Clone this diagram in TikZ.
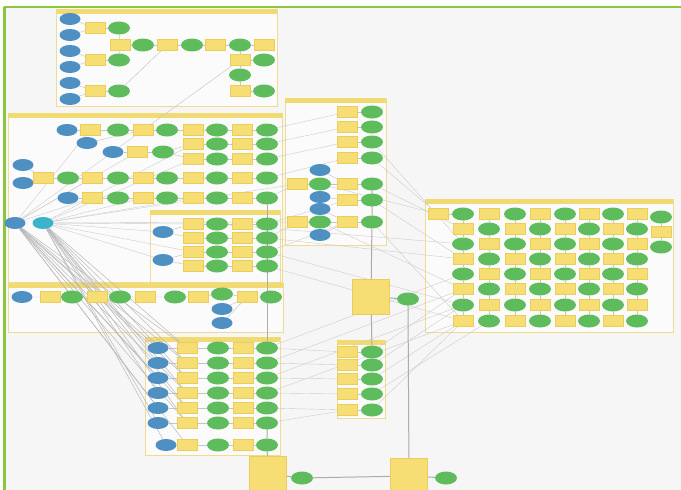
\documentclass[tikz,border=0pt]{standalone}
\usetikzlibrary{shapes.geometric}
\pgfdeclarelayer{base}
\pgfdeclarelayer{back}
\pgfdeclarelayer{links}
\pgfsetlayers{base,back,links,main}
\definecolor{bgc}{HTML}{F6F6F7}
\definecolor{bord}{HTML}{8CC63F}
\definecolor{nblue}{HTML}{4F90C2}
\definecolor{ncyan}{HTML}{3BB3CB}
\definecolor{ngreen}{HTML}{5FBC5C}
\definecolor{nyel}{HTML}{F6DE74}
\definecolor{nyeld}{HTML}{EBCD5C}
\definecolor{frm}{HTML}{F0DC90}
\definecolor{hdr}{HTML}{F2DA73}
\definecolor{lnk}{HTML}{C4C4CA}
\newcommand\mygrp[4]{%
  \draw[grpbox] (#1,#2) rectangle (#3,#4);
  \fill[hdr] (#1,#2) rectangle (#3,#2+4.5);}
\begin{document}
\begin{tikzpicture}[x=1pt,y=-1pt,
 bl/.style={ellipse,fill=nblue,minimum width=21pt,minimum height=12pt,inner sep=0pt},
 cy/.style={bl,fill=ncyan},
 gr/.style={ellipse,fill=ngreen,minimum width=22pt,minimum height=13pt,inner sep=0pt},
 yb/.style={rectangle,fill=nyel,draw=nyeld,line width=0.4pt,minimum width=20pt,minimum height=11pt,inner sep=0pt},
 big/.style={rectangle,fill=nyel,draw=nyeld,line width=0.5pt,minimum width=37pt,minimum height=35pt,inner sep=0pt},
 lk/.style={draw=lnk,line width=0.45pt},
 fan/.style={draw=gray!40,line width=0.4pt},
 dfan/.style={draw=gray!55,line width=0.5pt},
 trunk/.style={draw=gray!65,line width=1pt},
 grpbox/.style={draw=frm,line width=0.9pt,fill=white!60!bgc}
]
\useasboundingbox (0,0) rectangle (681,490);
\begin{pgfonlayer}{base}
\fill[bgc] (0,0) rectangle (681,490);
\fill[white] (0,0) rectangle (681,6);
\fill[white] (0,0) rectangle (4,490);
\end{pgfonlayer}
\draw[bord,line width=2.6pt] (3.5,7) -- (681,7);
\draw[bord,line width=2.6pt] (4.7,7) -- (4.7,490);

\begin{pgfonlayer}{back}
\mygrp{56}{9}{277}{106}
\mygrp{8}{113}{282}{282}
\mygrp{150}{210}{280}{282}
\mygrp{285}{98}{386}{245}
\mygrp{8}{283}{283}{332}
\mygrp{425}{199}{673}{332}
\mygrp{145}{337}{280}{455}
\mygrp{337}{340}{385}{418}
\end{pgfonlayer}

% ---------- group 1 ----------
\foreach \i/\y in {1/19,2/35,3/51,4/67,5/83,6/99}{\node[bl] (b1-\i) at (70,\y) {};}
\node[yb] (y1a) at (95,28) {};  \node[gr] (g1a) at (119,28) {};
\node[yb] (y1b) at (95,60) {};  \node[gr] (g1b) at (119,60) {};
\node[yb] (y1c) at (95,91) {};  \node[gr] (g1c) at (119,91) {};
\node[yb] (y1d) at (120,45) {}; \node[gr] (g1d) at (143,45) {};
\node[yb] (y1e) at (167,45) {}; \node[gr] (g1e) at (192,45) {};
\node[yb] (y1f) at (215,45) {}; \node[gr] (g1f) at (240,45) {};
\node[yb] (y1g) at (264,45) {};
\node[yb] (y1h) at (240,60) {}; \node[gr] (g1h) at (264,60) {};
\node[gr] (g1i) at (240,75) {};
\node[yb] (y1i) at (240,91) {}; \node[gr] (g1j) at (264,91) {};

% ---------- group 2 ----------
\node[bl] (b2a) at (67,130) {};
\node[yb] (y2a) at (90,130) {};  \node[gr] (g2a) at (118,130) {};
\node[yb] (y2b) at (143,130) {}; \node[gr] (g2b) at (167,130) {};
\node[yb] (y2c) at (193,130) {}; \node[gr] (g2c) at (217,130) {};
\node[yb] (y2d) at (242,130) {}; \node[gr] (g2d) at (267,130) {};
\node[bl] (b2b) at (87,143) {};
\node[bl] (b2c) at (113,152) {};
\node[yb] (y2e) at (137,152) {}; \node[gr] (g2e) at (163,152) {};
\node[yb] (y2f) at (193,144) {}; \node[gr] (g2f) at (217,144) {};
\node[yb] (y2g) at (242,144) {}; \node[gr] (g2g) at (267,144) {};
\node[yb] (y2h) at (193,159) {}; \node[gr] (g2h) at (217,159) {};
\node[yb] (y2i) at (242,159) {}; \node[gr] (g2i) at (267,159) {};
\node[bl] (b2d) at (23,165) {};
\node[bl] (b2e) at (23,183) {};
\node[yb] (y2j) at (43,178) {};  \node[gr] (g2j) at (68,178) {};
\node[yb] (y2k) at (92,178) {};  \node[gr] (g2k) at (118,178) {};
\node[yb] (y2l) at (143,178) {}; \node[gr] (g2l) at (167,178) {};
\node[yb] (y2m) at (193,178) {}; \node[gr] (g2m) at (217,178) {};
\node[yb] (y2n) at (242,178) {}; \node[gr] (g2n) at (267,178) {};
\node[bl] (b2f) at (68,198) {};
\node[yb] (y2o) at (92,198) {};  \node[gr] (g2o) at (118,198) {};
\node[yb] (y2p) at (143,198) {}; \node[gr] (g2p) at (167,198) {};
\node[yb] (y2q) at (193,198) {}; \node[gr] (g2q) at (217,198) {};
\node[yb] (y2r) at (242,198) {}; \node[gr] (g2r) at (267,198) {};
\node[bl] (b0) at (15,223) {};
\node[cy] (c0) at (43,223) {};

% ---------- group 4 ----------
\node[bl] (b4a) at (163,232) {};
\node[bl] (b4b) at (163,260) {};
\foreach \i/\y in {1/224,2/238,3/252,4/266}{
  \node[yb] (ya4-\i) at (193,\y) {}; \node[gr] (ga4-\i) at (217,\y) {};
  \node[yb] (yb4-\i) at (242,\y) {}; \node[gr] (gb4-\i) at (267,\y) {};}

% ---------- group 3 ----------
\node[yb] (y3a) at (347,112) {}; \node[gr] (g3a) at (372,112) {};
\node[yb] (y3b) at (347,127) {}; \node[gr] (g3b) at (372,127) {};
\node[yb] (y3c) at (347,142) {}; \node[gr] (g3c) at (372,142) {};
\node[yb] (y3d) at (347,158) {}; \node[gr] (g3d) at (372,158) {};
\node[bl] (b3a) at (320,170) {};
\node[yb] (y3e) at (297,184) {}; \node[gr] (g3e) at (320,184) {};
\node[yb] (y3f) at (347,184) {}; \node[gr] (g3f) at (372,184) {};
\node[bl] (b3b) at (320,197) {};
\node[yb] (y3g) at (347,200) {}; \node[gr] (g3g) at (372,200) {};
\node[bl] (b3c) at (320,209) {};
\node[yb] (y3h) at (297,222) {}; \node[gr] (g3h) at (320,222) {};
\node[yb] (y3i) at (347,222) {}; \node[gr] (g3i) at (372,222) {};
\node[bl] (b3d) at (320,235) {};

% ---------- group 8 ----------
\node[bl] (b8a) at (22,297) {};
\node[yb] (y8a) at (50,297) {};  \node[gr] (g8a) at (72,297) {};
\node[yb] (y8b) at (97,297) {};  \node[gr] (g8b) at (120,297) {};
\node[yb] (y8c) at (145,297) {}; \node[gr] (g8c) at (175,297) {};
\node[yb] (y8d) at (198,297) {}; \node[gr] (g8d) at (222,294) {};
\node[yb] (y8e) at (247,297) {}; \node[gr] (g8e) at (271,297) {};
\node[bl] (b8b) at (222,309) {};
\node[bl] (b8c) at (222,323) {};

% ---------- group 6 ----------
\node[yb] (n6f) at (438,214) {};
\foreach \c/\x in {0/463,1/489,2/515,3/540,4/565,5/589,6/613,7/637}{
  \foreach \r/\y in {0/214,1/229,2/244,3/259,4/274,5/289,6/305,7/321}{
    \pgfmathtruncatemacro\s{\c+\r}
    \ifodd\s \node[yb] (n6-\c-\r) at (\x,\y) {};
    \else \node[gr] (n6-\c-\r) at (\x,\y) {}; \fi
  }}
\node[gr] (n6-8-0) at (661,217) {};
\node[yb] (n6-8-1) at (661,232) {};
\node[gr] (n6-8-2) at (661,247) {};

% ---------- group 5 ----------
\foreach \i/\y in {1/348,2/363,3/378,4/393,5/408,6/423}{
  \node[bl] (b5-\i) at (158,\y) {}; \node[yb] (y5-\i) at (187,\y) {};
  \node[gr] (g5-\i) at (218,\y) {}; \node[yb] (z5-\i) at (243,\y) {};
  \node[gr] (h5-\i) at (267,\y) {};}
\node[bl] (b5-7) at (166,445) {}; \node[yb] (y5-7) at (187,445) {};
\node[gr] (g5-7) at (218,445) {}; \node[yb] (z5-7) at (243,445) {};
\node[gr] (h5-7) at (267,445) {};

% ---------- group 7 ----------
\foreach \i/\y in {1/352,2/365,3/379,4/394,5/410}{
  \node[yb] (y7-\i) at (347,\y) {}; \node[gr] (g7-\i) at (372,\y) {};}

% ---------- big steps ----------
\node[big] (sq1) at (371,297) {};
\node[gr] (gs1) at (408,299) {};
\node[big] (sq2) at (268,474) {};
\node[gr] (gs2) at (302,478) {};
\node[big] (sq3) at (409,476) {};
\node[gr] (gs3) at (446,478) {};

% ---------- connectors ----------
\begin{pgfonlayer}{links}
% group 1
\foreach \a/\b in {b1-1/y1a,b1-2/y1a,b1-3/y1b,b1-4/y1b,b1-5/y1c,b1-6/y1c,
  y1a/g1a,y1b/g1b,y1c/g1c,g1a/y1d,g1b/y1d,y1d/g1d,g1d/y1e,y1e/g1e,g1e/y1f,
  y1f/g1f,g1f/y1g,g1f/y1h,y1h/g1h,y1h/g1i,g1i/y1i,y1i/g1j,g1c/y1e,y2b/y1h}
  {\draw[lk] (\a) -- (\b);}
% group 2 and 4
\foreach \a/\b in {b2a/y2a,y2a/g2a,g2a/y2b,y2b/g2b,g2b/y2c,y2c/g2c,g2c/y2d,y2d/g2d,
  b2b/y2b,b2c/y2e,y2e/g2e,g2e/y2f,y2f/g2f,g2f/y2g,y2g/g2g,g2e/y2h,y2h/g2h,g2h/y2i,y2i/g2i,
  b2d/y2j,b2e/y2j,y2j/g2j,g2j/y2k,y2k/g2k,g2k/y2l,y2l/g2l,g2l/y2m,y2m/g2m,g2m/y2n,y2n/g2n,
  b2f/y2o,y2o/g2o,g2o/y2p,y2p/g2p,g2p/y2q,y2q/g2q,g2q/y2r,y2r/g2r,
  b4a/ya4-1,b4a/ya4-2,b4b/ya4-3,b4b/ya4-4}
  {\draw[lk] (\a) -- (\b);}
\foreach \i in {1,2,3,4}{\draw[lk] (ya4-\i) -- (ga4-\i) -- (yb4-\i) -- (gb4-\i);}
% group 3
\foreach \a/\b in {y3a/g3a,y3b/g3b,y3c/g3c,y3d/g3d,b3a/y3f,y3e/g3e,g3e/y3f,y3f/g3f,
  b3b/y3g,y3g/g3g,b3c/y3i,y3h/g3h,g3h/y3i,y3i/g3i,b3d/y3i}
  {\draw[lk] (\a) -- (\b);}
% group 8
\draw[lk] (b8a) -- (y8a) -- (g8a) -- (y8b) -- (g8b) -- (y8c) -- (g8c) -- (y8d) -- (g8d) -- (y8e) -- (g8e);
\draw[lk] (b8b) -- (y8e); \draw[lk] (b8c) -- (y8e);
% group 6
\foreach \c in {0,...,7}{\foreach \r in {0,...,6}{
  \pgfmathtruncatemacro\rn{\r+1}\draw[lk] (n6-\c-\r) -- (n6-\c-\rn);}}
\draw[lk] (n6-8-0) -- (n6-8-1) -- (n6-8-2);
\draw[lk] (n6f) -- (n6-0-0);
% group 5 and 7
\foreach \i in {1,...,7}{\draw[lk] (b5-\i) -- (y5-\i) -- (g5-\i) -- (z5-\i) -- (h5-\i);}
\foreach \i in {1,...,5}{\draw[lk] (y7-\i) -- (g7-\i);}
% fans from the two inputs
\foreach \t in {y5-1,y5-2,y5-3,y5-4,y5-5,y5-6,y5-7,b5-1,b5-3,b5-5}{\draw[dfan] (b0) -- (\t);}
\foreach \t in {y5-1,y5-2,y5-3,y5-4,y5-5,y5-6,b5-2,b5-4,b5-6,b5-7}{\draw[dfan] (c0) -- (\t);}
\foreach \t in {b4a,b4b,y2p,y2q,y2f,y2h,ya4-1,ya4-3,y3e,y3h}{\draw[fan] (c0) -- (\t);}
\foreach \t in {y2k,y2e,y2b,y2a,y2o}{\draw[fan] (b0) -- (\t);}
% long cross links
\foreach \a/\b in {g2d/y3a,g2g/y3b,g2i/y3c,g2n/y3d,g2r/y3e,gb4-1/y3g,gb4-2/y3h,gb4-3/y3i,
  g3e/n6f,g3f/n6-0-1,g3g/n6-0-3,g3h/n6-0-5,g3i/n6-0-7,g3d/n6f,g3c/n6-0-2,
  gb4-2/n6-0-3,gb4-3/n6-0-6,gb4-4/n6-0-7,ga4-1/n6-0-2,
  h5-1/y7-1,h5-2/y7-2,h5-3/y7-3,h5-4/y7-4,h5-5/y7-5,h5-6/y7-5,
  h5-1/n6-0-4,h5-2/n6-0-5,h5-3/n6-0-6,h5-4/n6-0-7,
  g7-1/n6-0-5,g7-2/n6-0-6,g7-3/n6-0-7,g7-4/n6-1-7,g7-5/n6-0-7}
  {\draw[fan] (\a) -- (\b);}
% main trunk lines
\draw[trunk] (g2r) -- (h5-1);
\draw[trunk] (h5-6) -- (h5-7) -- (sq2);
\draw[trunk] (g3f) -- (g3i) -- (sq1);
\draw[trunk] (sq1) -- (g7-1);
\draw[trunk] (sq1) -- (gs1);
\draw[trunk] (gs1) -- (sq3);
\draw[trunk] (sq2) -- (gs2) -- (sq3) -- (gs3);
\end{pgfonlayer}
\end{tikzpicture}
\end{document}
